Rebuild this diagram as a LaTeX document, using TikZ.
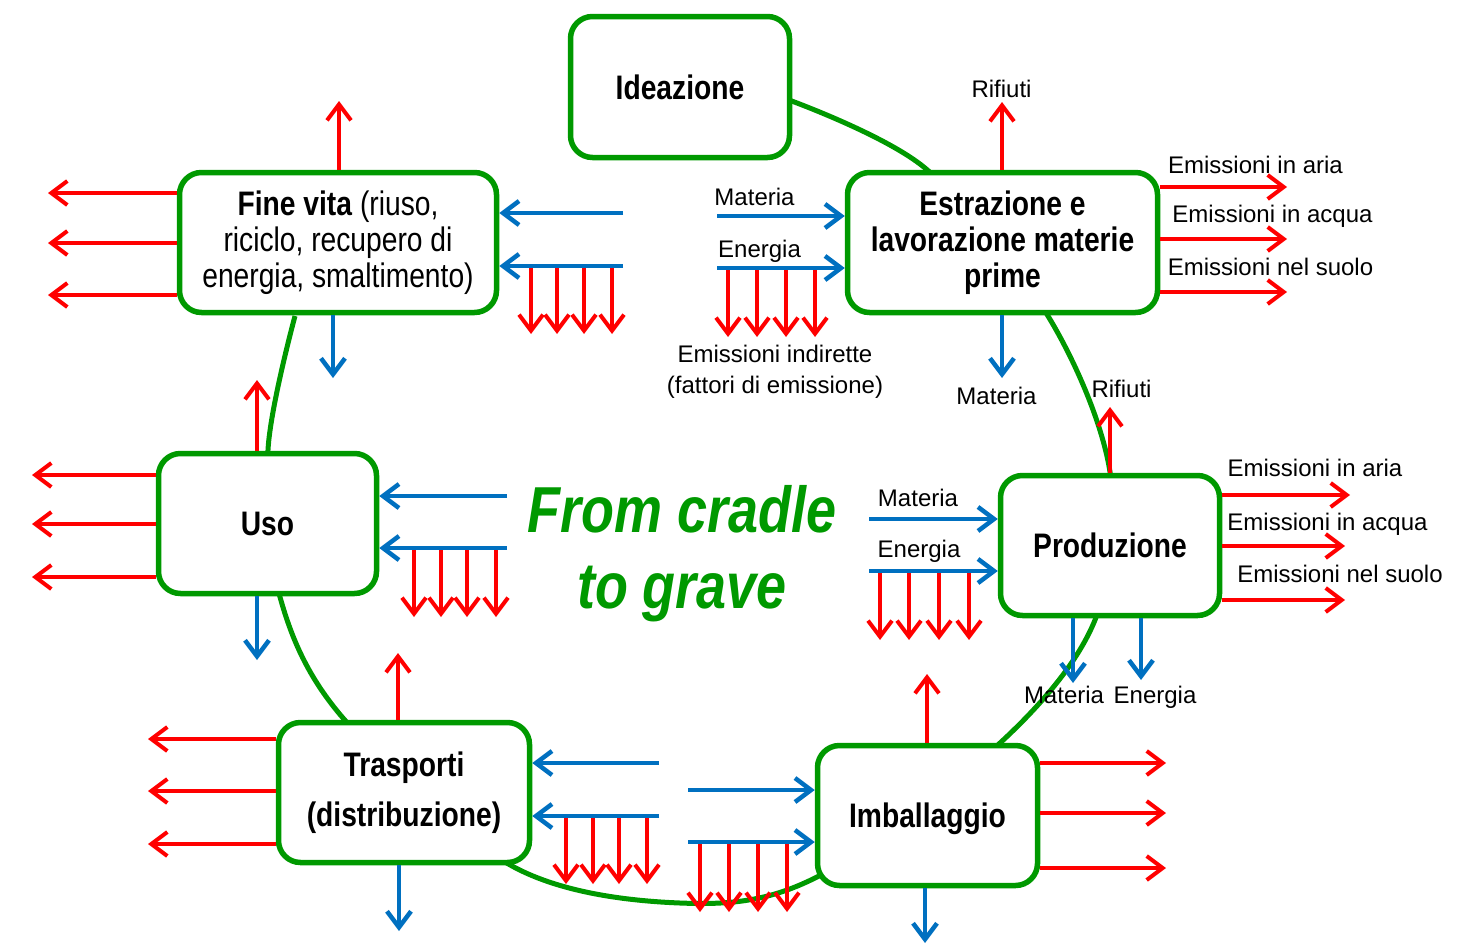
\documentclass[tikz,border=0pt]{standalone}
\usepackage{fontspec}
\setmainfont{Liberation Sans}
\newfontfamily\narrowfont{Liberation Sans}[FakeStretch=0.83]
\usetikzlibrary{arrows.meta}
\definecolor{lcagreen}{RGB}{0,153,0}
\definecolor{lcared}{RGB}{255,0,0}
\definecolor{lcablue}{RGB}{0,112,192}

\begin{document}
\begin{tikzpicture}[x=1pt,y=-1pt,
  stage/.style={draw=lcagreen,line width=5.5pt,rounded corners=22pt,fill=white,align=center,inner sep=0pt,
    font=\narrowfont\bfseries\fontsize{34}{36}\selectfont},
  redarr/.style={draw=lcared,line width=4pt,-{Straight Barb[length=16pt,width=24pt]}},
  bluearr/.style={draw=lcablue,line width=4.5pt,-{Straight Barb[length=16pt,width=24pt]}},
  lbl/.style={font=\fontsize{24}{26}\selectfont,inner sep=0pt,anchor=base},
  motto/.style={text=lcagreen,font=\narrowfont\bfseries\itshape\fontsize{65}{76}\selectfont,inner sep=0pt,anchor=base}]
\useasboundingbox (0,0) rectangle (1461,945);
% ciclo di vita
\draw[lcagreen,line width=5pt] plot[smooth,tension=0.55] coordinates {(789,100) (925,168) (1048,316) (1110,472)
  (1095,620) (1000,743) (815,878) (680,903) (512,866) (343,718) (280,597) (268,450) (295,316)};
% fasi
\node[stage,minimum width=219pt,minimum height=141pt] (ideaz) at (680,87) {Ideazione};
\node[stage,minimum width=310pt,minimum height=140pt] (estraz) at (1002.5,242.5) {Estrazione e\\lavorazione materie\\prime};
\node[stage,minimum width=317pt,minimum height=140pt,font=\narrowfont\fontsize{34}{36}\selectfont] (fine) at (338,242.5)
  {\textbf{Fine vita} (riuso,\\riciclo, recupero di\\energia, smaltimento)};
\node[stage,minimum width=218pt,minimum height=140pt] (uso) at (267.5,523.5) {Uso};
\node[stage,minimum width=219pt,minimum height=140pt] (produz) at (1110,545.5) {Produzione};
\node[stage,minimum width=251pt,minimum height=140pt] (trasp) at (404,792.5) {Trasporti\\[14pt](distribuzione)};
\node[stage,minimum width=220pt,minimum height=140pt,text depth=0pt] (imball) at (927.5,815.5) {Imballaggio};
\node[motto] (motto1) at (682,532) {From cradle};
\node[motto] (motto2) at (682,608) {to grave};
% fine vita
\draw[redarr] (fine.north -| 339,0) -- (339,101);
\foreach \y in {193,243,295} \draw[redarr] (fine.west |- 0,\y) -- (48,\y);
\foreach \x in {531,557,584,612} \draw[redarr] (\x,268) -- (\x,334);
\foreach \y in {213,266} \draw[bluearr] (623,\y) -- (fine.east |- 0,\y);
\draw[bluearr] (fine.south -| 333,0) -- (333,378);
% estrazione
\draw[redarr] (estraz.north -| 1002,0) -- (1002,102);
\foreach \y in {187,239,292} \draw[redarr] (estraz.east |- 0,\y) -- (1287,\y);
\foreach \x in {728,757,786,815} \draw[redarr] (\x,270) -- (\x,337);
\foreach \y in {216,268} \draw[bluearr] (717,\y) -- (estraz.west |- 0,\y);
\draw[bluearr] (estraz.south -| 1002,0) -- (1002,378);
\draw[redarr] (produz.north -| 1110,0) -- (1110,407);
% uso
\draw[redarr] (uso.north -| 257,0) -- (257,380);
\foreach \y in {475,524,577} \draw[redarr] (uso.west |- 0,\y) -- (32,\y);
\foreach \x in {414,441,467,496} \draw[redarr] (\x,550) -- (\x,617);
\foreach \y in {496,548} \draw[bluearr] (507,\y) -- (uso.east |- 0,\y);
\draw[bluearr] (uso.south -| 257,0) -- (257,660);
% produzione
\foreach \x in {880,909,939,969} \draw[redarr] (\x,573) -- (\x,640);
\foreach \y in {519,571} \draw[bluearr] (869,\y) -- (produz.west |- 0,\y);
\foreach \y/\e in {495/1350,546/1345,600/1345} \draw[redarr] (produz.east |- 0,\y) -- (\e,\y);
\draw[bluearr] (produz.south -| 1073,0) -- (1073,683);
\draw[bluearr] (produz.south -| 1141,0) -- (1141,680);
% imballaggio
\draw[redarr] (imball.north -| 927,0) -- (927,674);
\foreach \y in {763,813,868} \draw[redarr] (imball.east |- 0,\y) -- (1166,\y);
\foreach \x in {700,729,758,787} \draw[redarr] (\x,844) -- (\x,912);
\foreach \y in {790,842} \draw[bluearr] (688,\y) -- (imball.west |- 0,\y);
\draw[bluearr] (imball.south -| 925,0) -- (925,943);
% trasporti
\draw[redarr] (trasp.north -| 398,0) -- (398,653);
\foreach \y in {739,791,844} \draw[redarr] (trasp.west |- 0,\y) -- (148,\y);
\foreach \x in {566,593,619,647} \draw[redarr] (\x,818) -- (\x,884);
\foreach \y in {763,816} \draw[bluearr] (659,\y) -- (trasp.east |- 0,\y);
\draw[bluearr] (trasp.south -| 399,0) -- (399,931);
% etichette
\node[lbl] (matE) at (754.5,205) {Materia};
\node[lbl] (eneE) at (759.5,257) {Energia};
\node[lbl] (indA) at (775,362) {Emissioni indirette};
\node[lbl] (indB) at (775,393) {(fattori di emissione)};
\node[lbl] (rifE) at (1001.5,97) {Rifiuti};
\node[lbl] (ariaE) at (1255.5,173) {Emissioni in aria};
\node[lbl] (acqE) at (1272.5,222) {Emissioni in acqua};
\node[lbl] (suoE) at (1270.5,275) {Emissioni nel suolo};
\node[lbl] (matO) at (996.5,404) {Materia};
\node[lbl] (rifP) at (1121.5,397) {Rifiuti};
\node[lbl] (matP) at (918,506) {Materia};
\node[lbl] (eneP) at (919,557) {Energia};
\node[lbl] (ariaP) at (1315,476) {Emissioni in aria};
\node[lbl] (acqP) at (1327.5,530) {Emissioni in acqua};
\node[lbl] (suoP) at (1340,582) {Emissioni nel suolo};
\node[lbl] (matU) at (1064,703) {Materia};
\node[lbl] (eneU) at (1155,703) {Energia};
\end{tikzpicture}
\end{document}
